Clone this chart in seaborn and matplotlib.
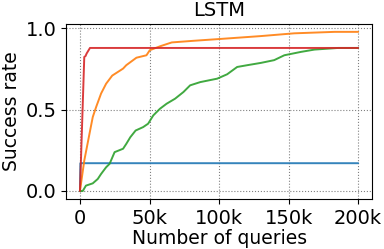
import pandas as pd
import seaborn as sns
import matplotlib.pyplot as plt

# queries (in thousands) / success rate
blue_x = [0, 0.3, 200]
blue_y = [0, 0.171, 0.171]

red_x = [0, 3.1, 4.0, 4.8, 7.2, 200]
red_y = [0, 0.825, 0.83, 0.846, 0.88, 0.88]

orange_x = [0, 3.1, 6.8, 9.2, 11.6, 15.2, 18.8, 23.2, 31, 33.3, 40.6, 47.8, 50.2,
            57.5, 66, 81.6, 98.6, 130, 154, 183, 200]
orange_y = [0, 0.187, 0.35, 0.455, 0.516, 0.6, 0.66, 0.71, 0.753, 0.774, 0.82, 0.835, 0.866,
            0.89, 0.914, 0.924, 0.934, 0.953, 0.97, 0.979, 0.979]

green_x = [0, 2, 4.3, 9.2, 12.8, 15.2, 18.8, 21.3, 24.9, 31, 33.3, 36.2, 40, 45.4, 49,
           52.7, 57.5, 62.3, 68.4, 74.4, 79.2, 86.5, 98.6, 105.8, 113, 120.3, 130,
           139.6, 146.9, 159, 168.6, 185.5, 200]
green_y = [0, 0.0, 0.033, 0.047, 0.074, 0.105, 0.146, 0.167, 0.239, 0.26, 0.29, 0.331, 0.372,
           0.393, 0.414, 0.465, 0.506, 0.537, 0.568, 0.609, 0.65, 0.67, 0.691, 0.718, 0.763,
           0.774, 0.788, 0.805, 0.835, 0.856, 0.87, 0.88, 0.88]

series = [("blue", blue_x, blue_y), ("orange", orange_x, orange_y),
          ("green", green_x, green_y), ("red", red_x, red_y)]

rows = []
for name, xs, ys in series:
    for x, y in zip(xs, ys):
        rows.append({"method": name, "queries": x * 1000, "rate": y})
df = pd.DataFrame(rows)

sns.set_style("ticks", {"text.color": "black", "axes.labelcolor": "black",
                        "xtick.color": "black", "ytick.color": "black",
                        "axes.edgecolor": "black"})
fig = plt.figure(figsize=(3.84, 2.49), dpi=100)
ax = fig.add_axes([0.172, 0.201, 0.797, 0.703])

sns.lineplot(data=df, x="queries", y="rate", hue="method", palette=sns.color_palette("tab10", 4),
             sort=False, estimator=None, linewidth=1.4, alpha=0.9, legend=False, ax=ax)

ax.set_xticks([0, 50000, 100000, 150000, 200000])
ax.set_xticklabels(["0", "50k", "100k", "150k", "200k"])
ax.set_yticks([0, 0.5, 1.0])
ax.tick_params(labelsize=14)
ax.grid(True, linestyle=":", color="grey", linewidth=0.8)
ax.set_xlabel("Number of queries", fontsize=13.5, labelpad=1)
ax.set_ylabel("Success rate", fontsize=13.5, labelpad=3)
ax.set_title("LSTM", fontsize=14)

fig.savefig("out.png", dpi=100)
